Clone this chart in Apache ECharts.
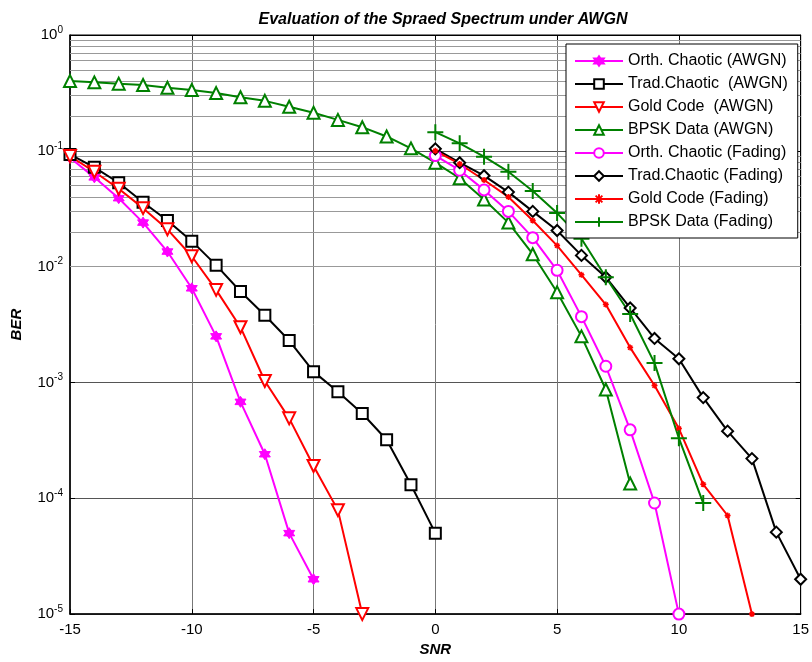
<!DOCTYPE html>
<html>
<head>
<meta charset="utf-8">
<script src="https://cdn.jsdelivr.net/npm/echarts@6/dist/echarts.min.js"></script>
<style>
  html, body { margin: 0; padding: 0; background: #fff; }
  #main { width: 812px; height: 662px; }
</style>
</head>
<body>
<div id="main"></div>
<script>
// SNR values (dB) for each curve
var snrOrthAwgn = [-15, -14, -13, -12, -11, -10, -9, -8, -7, -6, -5];
var snrTradAwgn = [-15, -14, -13, -12, -11, -10, -9, -8, -7, -6, -5, -4, -3, -2, -1, 0];
var snrGoldAwgn = [-15, -14, -13, -12, -11, -10, -9, -8, -7, -6, -5, -4, -3];
var snrBpskAwgn = [-15, -14, -13, -12, -11, -10, -9, -8, -7, -6, -5, -4, -3, -2, -1, 0, 1, 2, 3, 4, 5, 6, 7, 8];
var snrOrthFad = [0, 1, 2, 3, 4, 5, 6, 7, 8, 9, 10];
var snrTradFad = [0, 1, 2, 3, 4, 5, 6, 7, 8, 9, 10, 11, 12, 13, 14, 15];
var snrGoldFad = [0, 1, 2, 3, 4, 5, 6, 7, 8, 9, 10, 11, 12, 13];
var snrBpskFad = [0, 1, 2, 3, 4, 5, 6, 7, 8, 9, 10, 11];

// BER values
var berOrthAwgn = [0.087, 0.059, 0.039, 0.024, 0.0135, 0.0065, 0.0025, 0.00068, 0.00024, 5.0e-5, 2.0e-5];
var berTradAwgn = [0.093, 0.072, 0.053, 0.036, 0.025, 0.0166, 0.0103, 0.0061, 0.0038, 0.0023, 0.00124, 0.00083, 0.00054, 0.00032, 0.000131, 5.0e-5];
var berGoldAwgn = [0.09, 0.066, 0.047, 0.032, 0.021, 0.0123, 0.0063, 0.0030, 0.00103, 0.00049, 0.00019, 7.9e-5, 1.0e-5];
var berBpskAwgn = [0.40, 0.39, 0.38, 0.37, 0.35, 0.335, 0.315, 0.29, 0.27, 0.24, 0.213, 0.185, 0.16, 0.133, 0.105, 0.079, 0.058, 0.038, 0.024, 0.0128, 0.006, 0.0025, 0.00087, 0.000134];
var berOrthFad = [0.091, 0.068, 0.046, 0.030, 0.0178, 0.0093, 0.0037, 0.00138, 0.00039, 9.1e-5, 1.0e-5];
var berTradFad = [0.104, 0.079, 0.061, 0.044, 0.030, 0.0205, 0.0125, 0.0081, 0.0044, 0.0024, 0.0016, 0.00074, 0.00038, 0.00022, 5.1e-5, 2.0e-5];
var berGoldFad = [0.100, 0.077, 0.056, 0.040, 0.025, 0.0152, 0.0085, 0.0047, 0.0020, 0.00094, 0.00040, 0.000132, 7.1e-5, 1.0e-5];
var berBpskFad = [0.145, 0.116, 0.089, 0.066, 0.045, 0.029, 0.0174, 0.0081, 0.0039, 0.00147, 0.00033, 9.1e-5];

var seriesNames = [
    'Orth. Chaotic (AWGN)', 'Trad.Chaotic  (AWGN)', 'Gold Code  (AWGN)', 'BPSK Data (AWGN)',
    'Orth. Chaotic (Fading)', 'Trad.Chaotic (Fading)', 'Gold Code (Fading)', 'BPSK Data (Fading)'
];
var minorGrid = [2e-5, 3e-5, 4e-5, 5e-5, 6e-5, 7e-5, 8e-5, 9e-5,
    2e-4, 3e-4, 4e-4, 5e-4, 6e-4, 7e-4, 8e-4, 9e-4,
    2e-3, 3e-3, 4e-3, 5e-3, 6e-3, 7e-3, 8e-3, 9e-3,
    0.02, 0.03, 0.04, 0.05, 0.06, 0.07, 0.08, 0.09,
    0.2, 0.3, 0.4, 0.5, 0.6, 0.7, 0.8, 0.9];

var FONT = 'Liberation Sans';
var MAGENTA = '#ff00ff', BLACK = '#000000', RED = '#ff0000', GREEN = '#008000';

var starPath = 'path://M0,-1L0.866,0.5L-0.866,0.5Z M0,1L-0.866,-0.5L0.866,-0.5Z';
var plusPath = 'path://M0,-1L0,1M-1,0L1,0';
var asterPath = 'path://M0,-1L0,1M-1,0L1,0M-0.7,-0.7L0.7,0.7M0.7,-0.7L-0.7,0.7';

function pairs(xs, ys) {
    return xs.map(function (x, i) { return [x, ys[i]]; });
}

function curve(name, xs, ys, color, symbol, size, extra) {
    var s = {
        name: name,
        type: 'line',
        data: pairs(xs, ys),
        symbol: symbol,
        symbolSize: size,
        clip: false,
        z: 3,
        lineStyle: { color: color, width: 2 },
        itemStyle: { color: color, borderColor: color, borderWidth: 2 },
        emphasis: { disabled: true }
    };
    if (extra) {
        for (var k in extra) s[k] = extra[k];
    }
    return s;
}

var myChart = echarts.init(document.getElementById('main'));

var option = {
    backgroundColor: '#fff',
    animation: false,
    textStyle: { fontFamily: FONT },
    title: {
        text: 'Evaluation of the Spraed Spectrum under AWGN',
        left: 438,
        textAlign: 'center',
        top: 7,
        textStyle: { fontFamily: FONT, fontSize: 16, fontWeight: 'bold', fontStyle: 'italic', color: '#000' }
    },
    grid: {
        left: 70, right: 7, top: 35, bottom: 46,
        show: true, borderColor: '#000', borderWidth: 1
    },
    legend: {
        data: seriesNames,
        orient: 'vertical',
        left: 566, top: 44,
        z: 20,
        padding: [9, 10, 8, 8],
        itemWidth: 48, itemHeight: 12,
        itemGap: 7,
        backgroundColor: '#fff',
        borderColor: '#000', borderWidth: 1,
        textStyle: { fontFamily: FONT, fontSize: 16, color: '#000' }
    },
    xAxis: [{
        type: 'value',
        min: -15, max: 15, interval: 5,
        name: 'SNR',
        nameLocation: 'middle',
        nameGap: 22,
        nameTextStyle: { fontFamily: FONT, fontSize: 15, fontWeight: 'bold', fontStyle: 'italic', color: '#000' },
        axisLine: { onZero: false, lineStyle: { color: '#000', width: 1.5 } },
        axisTick: { inside: true, length: 5, lineStyle: { color: '#000' } },
        axisLabel: { fontFamily: FONT, fontSize: 15, color: '#000', margin: 8 },
        splitLine: { lineStyle: { color: '#777', width: 1 } }
    }, {
        type: 'value', position: 'top',
        min: -15, max: 15, interval: 5,
        axisLine: { onZero: false, lineStyle: { color: '#000' } },
        axisTick: { inside: true, length: 5, lineStyle: { color: '#000' } },
        axisLabel: { show: false },
        splitLine: { show: false }
    }],
    yAxis: [{
        type: 'log',
        logBase: 10,
        min: 1e-5, max: 1, interval: 1,
        name: 'BER',
        nameLocation: 'middle',
        nameRotate: 90,
        nameGap: 46,
        nameTextStyle: { fontFamily: FONT, fontSize: 15, fontWeight: 'bold', fontStyle: 'italic', color: '#000' },
        axisLine: { onZero: false, lineStyle: { color: '#000', width: 1.5 } },
        axisTick: { inside: true, length: 5, lineStyle: { color: '#000' } },
        axisLabel: {
            fontFamily: FONT, fontSize: 15, color: '#000', margin: 7,
            formatter: function (v) {
                return '{b|10}{s|' + Math.round(Math.log10(v)) + '}';
            },
            rich: {
                b: { fontFamily: FONT, fontSize: 15, color: '#000' },
                s: { fontFamily: FONT, fontSize: 10, color: '#000', padding: [0, 0, 10, 0] }
            }
        },
        splitLine: { lineStyle: { color: '#555', width: 1 } }
    }, {
        type: 'log', position: 'right',
        logBase: 10,
        min: 1e-5, max: 1, interval: 1,
        axisLine: { onZero: false, lineStyle: { color: '#000' } },
        axisTick: { inside: true, length: 5, lineStyle: { color: '#000' } },
        axisLabel: { show: false },
        splitLine: { show: false }
    }],
    series: [
        {
            name: 'minor grid',
            type: 'line',
            data: [],
            silent: true,
            z: 1,
            markLine: {
                silent: true,
                z: 1,
                symbol: 'none',
                label: { show: false },
                lineStyle: { color: '#999', width: 1, type: 'solid' },
                emphasis: { disabled: true },
                data: minorGrid.map(function (v) { return { yAxis: v }; })
            }
        },
        curve(seriesNames[0], snrOrthAwgn, berOrthAwgn, MAGENTA, starPath, 11,
            { itemStyle: { color: MAGENTA, borderColor: MAGENTA, borderWidth: 1 } }),
        curve(seriesNames[1], snrTradAwgn, berTradAwgn, BLACK, 'emptyRect', 11),
        curve(seriesNames[2], snrGoldAwgn, berGoldAwgn, RED, 'emptyTriangle', 12, { symbolRotate: 180 }),
        curve(seriesNames[3], snrBpskAwgn, berBpskAwgn, GREEN, 'emptyTriangle', 12),
        curve(seriesNames[4], snrOrthFad, berOrthFad, MAGENTA, 'emptyCircle', 11),
        curve(seriesNames[5], snrTradFad, berTradFad, BLACK, 'emptyDiamond', 11),
        curve(seriesNames[6], snrGoldFad, berGoldFad, RED, asterPath, 6,
            { itemStyle: { color: 'none', borderColor: RED, borderWidth: 1.5 } }),
        curve(seriesNames[7], snrBpskFad, berBpskFad, GREEN, plusPath, 16,
            { itemStyle: { color: 'none', borderColor: GREEN, borderWidth: 2 } })
    ]
};

myChart.setOption(option);
</script>
</body>
</html>
